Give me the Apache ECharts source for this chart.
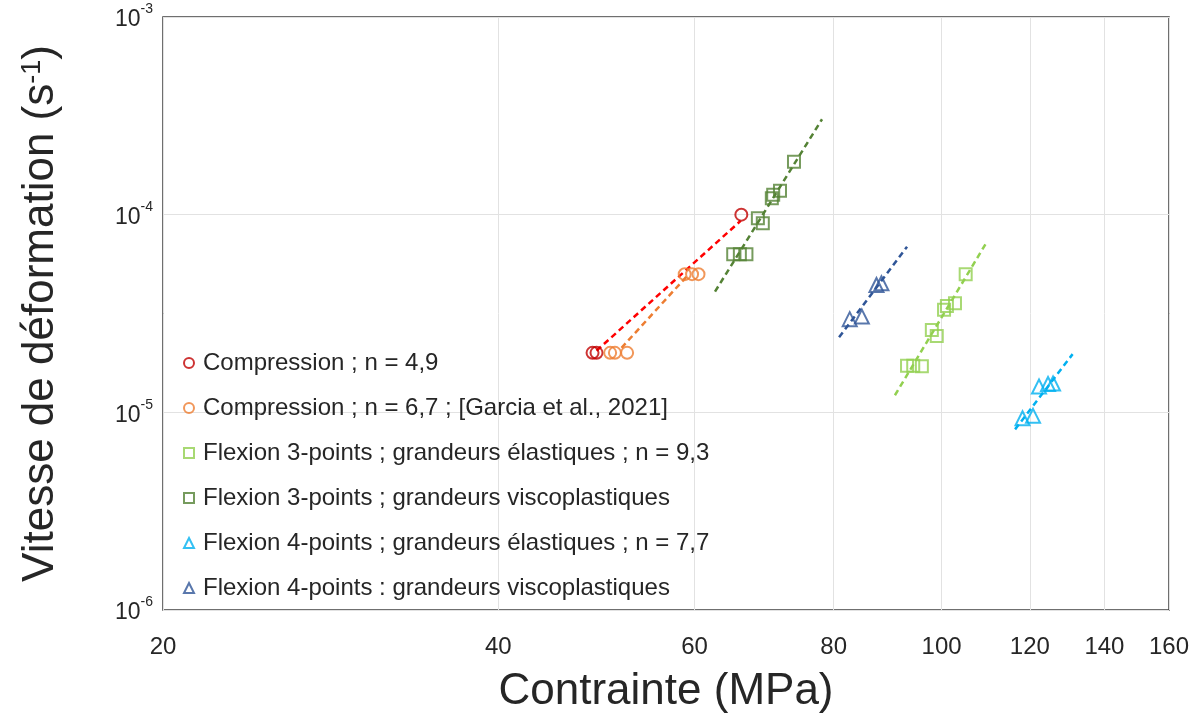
<!DOCTYPE html>
<html>
<head>
<meta charset="utf-8">
<script src="https://cdn.jsdelivr.net/npm/echarts@6/dist/echarts.min.js"></script>
<style>
html,body{margin:0;padding:0;background:#fff;}
#chart{width:1195px;height:718px;}
</style>
</head>
<body>
<div id="chart"></div>
<script>
// ---- Data (stress in MPa, strain rate in s^-1) ----
const seriesNames = [
  'Compression ; n = 4,9',
  'Compression ; n = 6,7 ; [Garcia et al., 2021]',
  'Flexion 3-points ; grandeurs élastiques ; n = 9,3',
  'Flexion 3-points ; grandeurs viscoplastiques',
  'Flexion 4-points ; grandeurs élastiques ; n = 7,7',
  'Flexion 4-points : grandeurs viscoplastiques'
];
const compN49 = [[48.6, 2.0e-5], [49.0, 2.0e-5], [66.1, 1.0e-4]];
const compN67 = [[50.4, 2.0e-5], [50.9, 2.0e-5], [52.2, 2.0e-5], [58.8, 5.0e-5], [59.7, 5.0e-5], [60.5, 5.0e-5]];
const flex3Elast = [[93.1, 1.72e-5], [94.3, 1.72e-5], [96.0, 1.71e-5], [98.0, 2.61e-5], [99.0, 2.43e-5], [100.5, 3.30e-5], [101.1, 3.45e-5], [102.8, 3.56e-5], [105.1, 5.0e-5]];
const flex3Visco = [[65.0, 6.3e-5], [65.9, 6.3e-5], [66.8, 6.3e-5], [68.4, 9.6e-5], [69.1, 9.05e-5], [70.4, 1.21e-4], [70.6, 1.26e-4], [71.6, 1.32e-4], [73.7, 1.85e-4]];
const flex4Elast = [[118.2, 9.33e-6], [120.8, 9.6e-6], [122.3, 1.35e-5], [124.6, 1.39e-5], [125.9, 1.40e-5]];
const flex4Visco = [[82.7, 2.96e-5], [84.8, 3.05e-5], [87.4, 4.41e-5], [88.3, 4.5e-5]];
// trend lines (power-law fits, endpoints)
const trendN49 = [[49.0, 2.05e-5], [66.0, 9.3e-5]];
const trendN67 = [[51.6, 2.12e-5], [59.2, 4.95e-5]];
const trendF3Elast = [[90.8, 1.22e-5], [109.8, 7.28e-5]];
const trendF3Visco = [[62.6, 4.08e-5], [78.1, 3.04e-4]];
const trendF4Elast = [[116.4, 8.2e-6], [131.1, 1.97e-5]];
const trendF4Visco = [[80.9, 2.4e-5], [93.1, 6.89e-5]];
const xTicks = [20, 40, 60, 80, 100, 120, 140, 160];

const colors = ['#c00000', '#ed7d31', '#92d050', '#548235', '#00b0f0', '#2f5597'];
const lineColors = ['#ff0000', '#ed7d31', '#92d050', '#548235', '#00b0f0', '#2f5597'];
const symbols = ['circle', 'circle', 'rect', 'rect', 'triangle', 'triangle'];
const scatterData = [compN49, compN67, flex3Elast, flex3Visco, flex4Elast, flex4Visco];
const trendData = [trendN49, trendN67, trendF3Elast, trendF3Visco, trendF4Elast, trendF4Visco];

const FONT = 'Liberation Sans, Arial, sans-serif';
const TXT = '#262626';

const series = [];
trendData.forEach((d, i) => {
  series.push({
    name: 'trend' + i,
    type: 'line',
    data: d,
    showSymbol: false,
    symbol: 'none',
    silent: true,
    z: 1,
    lineStyle: { color: lineColors[i], width: 2.5, type: [6, 4] }
  });
});
scatterData.forEach((d, i) => {
  series.push({
    name: seriesNames[i],
    type: 'scatter',
    data: d,
    symbol: symbols[i],
    symbolSize: i >= 4 ? 14 : 12,
    z: 3,
    itemStyle: { color: 'rgba(0,0,0,0)', borderColor: colors[i], borderWidth: 2 }
  });
});

const chart = echarts.init(document.getElementById('chart'), null, { renderer: 'canvas' });
chart.setOption({
  backgroundColor: '#fff',
  animation: false,
  grid: {
    left: 163, right: 26, top: 17, bottom: 108,
    containLabel: false, outerBoundsMode: 'none',
    show: true, borderColor: '#404040', borderWidth: 1.5, backgroundColor: 'transparent'
  },
  legend: {
    data: seriesNames.map((n, i) => ({ name: n, icon: symbols[i], itemStyle: { color: 'rgba(0,0,0,0)', borderColor: colors[i], borderWidth: 2 } })),
    orient: 'vertical',
    left: 178,
    top: 346,
    itemWidth: 10,
    itemHeight: 10,
    itemGap: 21,
    textStyle: { fontFamily: FONT, fontSize: 24, color: TXT, padding: [0, 0, 0, 4] }
  },
  xAxis: {
    type: 'log',
    logBase: 10,
    min: 20,
    max: 160,
    name: 'Contrainte (MPa)',
    nameLocation: 'middle',
    nameGap: 60,
    nameTextStyle: { fontFamily: FONT, fontSize: 44, color: TXT },
    axisLine: { show: false },
    axisTick: { show: false, customValues: xTicks },
    axisLabel: { customValues: xTicks, fontFamily: FONT, fontSize: 24, color: TXT, margin: 25, formatter: v => String(Math.round(v)) },
    splitLine: { show: true, lineStyle: { color: '#e2e2e2', width: 1 } },
    minorTick: { show: false },
    minorSplitLine: { show: false }
  },
  yAxis: {
    type: 'log',
    logBase: 10,
    min: 1e-6,
    max: 1e-3,
    name: '{t|Vitesse de déformation (s}{s|-1}{t|)}',
    nameLocation: 'middle',
    nameGap: 100,
    nameTextStyle: {
      fontFamily: FONT, color: TXT,
      rich: {
        t: { fontFamily: FONT, fontSize: 44, color: TXT },
        s: { fontFamily: FONT, fontSize: 27, color: TXT, verticalAlign: 'top' }
      }
    },
    axisLine: { show: false },
    axisTick: { show: false },
    axisLabel: {
      fontFamily: FONT, color: TXT, margin: 10,
      formatter: v => '{b|10}{s|' + Math.round(Math.log10(v)) + '}',
      rich: {
        b: { fontFamily: FONT, fontSize: 23, color: TXT, padding: [6, 0, 0, 0] },
        s: { fontFamily: FONT, fontSize: 14, color: TXT, verticalAlign: 'top' }
      }
    },
    splitLine: { show: true, lineStyle: { color: '#e2e2e2', width: 1 } },
    minorTick: { show: false },
    minorSplitLine: { show: false }
  },
  series: series
});
</script>
</body>
</html>
